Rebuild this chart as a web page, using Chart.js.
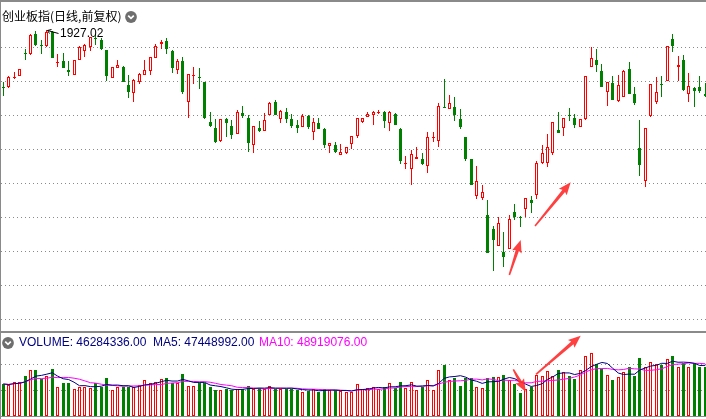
<!DOCTYPE html>
<html>
<head>
<meta charset="utf-8">
<script src="https://cdn.jsdelivr.net/npm/chart.js@4.4.1/dist/chart.umd.min.js"></script>
<style>
html,body{margin:0;padding:0;background:#fff;}
#wrap{position:relative;width:706px;height:419px;overflow:hidden;background:#fff;}
#wrap canvas{position:absolute;left:0;}
.t{position:absolute;white-space:pre;font-family:"Liberation Sans",Arial,sans-serif;font-size:12px;line-height:14px;}
.line{position:absolute;background:#8a8a8a;}
</style>
</head>
<body>
<div id="wrap">
  <canvas id="main" width="708" height="331" style="top:0"></canvas>
  <canvas id="vol" width="708" height="88" style="top:331px"></canvas>

  <div class="line" style="left:0;top:0;width:706px;height:2px;"></div>
  <div class="line" style="left:0;top:0;width:1px;height:419px;"></div>
  <div class="line" style="left:0;top:331px;width:706px;height:2px;"></div>
  <div class="line" style="left:0;top:416px;width:706px;height:1px;"></div>

  <div style="position:absolute;left:2px;top:9px;font-family:'Noto Sans CJK SC',sans-serif;font-size:12px;line-height:14px;color:#000;white-space:pre;">创业板指(日线,前复权)</div>
  <svg style="position:absolute;left:125px;top:11px" width="12" height="12"><circle cx="6" cy="6" r="5.9" fill="#6e6e6e"/><polyline points="3.2,4.6 6,7.4 8.8,4.6" fill="none" stroke="#fff" stroke-width="1.7"/></svg>

  <div id="maxLabel" class="t" style="color:#000;left:61px;top:26px;">1927.02</div>

  <svg style="position:absolute;left:2px;top:337px" width="12" height="12"><circle cx="6" cy="6" r="5.9" fill="#6e6e6e"/><polyline points="3.2,4.6 6,7.4 8.8,4.6" fill="none" stroke="#fff" stroke-width="1.7"/></svg>
  <div class="t" style="left:19px;top:335px;color:#000080;">VOLUME: 46284336.00</div>
  <div class="t" style="left:153px;top:335px;color:#000080;">MA5: 47448992.00</div>
  <div class="t" style="left:259px;top:335px;color:#ff00ff;">MA10: 48919076.00</div>
</div>

<script>
// ---------------- data ----------------
const OPEN = [
 1841.5,1841.0,1854.3,1858.5,1893,1890.6,1921,1904,1902.3,1924,
 1878,1880,1867,1859,1882,1896,1901,1915,1912,1896.3,
 1855.5,1869.5,1871.5,1844.5,1831.8,1849.5,1859,1865,1885,1906.5,
 1910.5,1896,1866.5,1880.5,1819,1857.5,1855.5,1849,1789,1780,
 1760,1793,1783,1770.5,1802.5,1795,1754,1780,1775,1799,
 1819,1793.5,1804,1793.5,1784.5,1781,1798,1774.5,1788,1778,
 1753.5,1754.5,1740,1743,1756,1768.5,1789.5,1796,1799.5,1803,
 1803.5,1787,1801,1778,1726.5,1719,1733,1733.5,1723.5,1765.5,
 1761,1811.5,1808,1811,1793,1766,1733.5,1678.5,1674.5,1649.5,
 1628,1603.5,1594,1599,1653.5,1646.5,1658,1672,1679,1727,
 1727,1742,1777,1779.5,1798.5,1794.5,1782,1793,1872,1882,
 1865.5,1833.5,1847,1820.5,1827,1868,1830.5,1749.5,1701,1798,
 1819.5,1845,1851,1913,1871,1882,1830.5,1840.5,1841,1831
];
const HIGH = [
 1849,1858,1863.6,1868.5,1898.5,1920.3,1925.5,1912,1927.02,1924.8,
 1890.3,1892.5,1879.8,1882,1902.3,1905.3,1916.5,1921,1914.3,1897,
 1871.5,1882,1872.3,1859.5,1852.8,1861.8,1882.5,1886.5,1905.5,1912.5,
 1915.5,1897,1884,1886.5,1861,1871.5,1870,1849.5,1804,1793,
 1793.5,1795,1791.5,1806.5,1813,1799,1783,1790.5,1802.5,1818.3,
 1822,1806.3,1810.5,1801,1792,1801,1799.5,1794.5,1794.5,1780,
 1757.5,1759.5,1756,1751.5,1768.5,1795,1795,1804.5,1804.8,1807,
 1805,1805,1803,1780,1738,1747,1751,1743,1774.5,1774,
 1817,1853.5,1829.5,1826,1808,1766.5,1734,1723,1694,1672,
 1633.5,1646.5,1624.5,1649.5,1666,1648.5,1675,1678,1731,1754.5,
 1771,1789,1804.5,1795,1809.5,1800.5,1793.5,1858,1902,1898.5,
 1876,1849,1858,1859.5,1867,1878.5,1841,1792,1780,1846,
 1856,1858,1903.5,1921,1888,1889.5,1863,1842,1858.5,1848
];
const LOW = [
 1828,1840,1853.5,1858,1882.5,1889.5,1903,1891,1900.8,1885,
 1870.8,1870,1857.3,1858.8,1881.3,1886.5,1895.5,1905,1897,1849.8,
 1855,1869.3,1849,1825.5,1819.5,1845.3,1858.8,1860,1884.5,1899,
 1891.5,1863,1861.5,1831.5,1795.5,1846.5,1839,1794,1782,1758,
 1759.5,1766.5,1764,1770.3,1795.5,1744,1743,1774,1774.8,1798.8,
 1798.8,1788,1788,1780.5,1773,1780.8,1778,1762,1778.5,1749.5,
 1742,1742,1740,1740.5,1748,1765.5,1788,1795.8,1784.5,1800.5,
 1780.5,1776,1784,1725.5,1719,1694.5,1732.8,1724.5,1713,1759.5,
 1752,1809.5,1807.8,1791,1779,1731,1693.8,1673.5,1672,1592.5,
 1566,1603,1572,1598.5,1642,1631,1647,1653,1673,1726,
 1722,1739.5,1772,1768,1791,1780.5,1781.5,1792,1871.5,1864.5,
 1841.5,1813.5,1821.5,1819,1826.5,1830.5,1814.5,1708.5,1692,1797,
 1816,1827,1850.5,1894.5,1850.5,1835.5,1819.5,1812,1832,1827
];
const CLOSE = [
 1840,1856.5,1856.5,1868,1891,1919,1904.5,1903,1924,1885.5,
 1879,1870.5,1864.5,1881.5,1901.5,1904.5,1916,1913,1897.8,1857.3,
 1871,1874,1849.5,1834.5,1852,1861,1866.5,1886,1903,1909,
 1899,1870.5,1880,1834,1860.5,1858.5,1854.5,1795.5,1782.5,1759,
 1793,1787.5,1770,1804,1798.5,1758,1782.5,1775.5,1791.5,1817.5,
 1799,1805,1794,1783.5,1780.5,1798,1782,1788.5,1779,1754.5,
 1757,1744.5,1744,1751,1768,1794.5,1794.5,1801,1804.5,1804,
 1790.5,1803.5,1784.5,1731,1727.5,1740.5,1736,1726,1766,1766,
 1813,1810.5,1817,1799.5,1782,1733.5,1694.5,1700.5,1684.5,1593,
 1612,1637,1587,1643,1646,1645.5,1674.5,1667,1727,1742,
 1752,1788.5,1772,1794.5,1797.5,1785,1793,1857.5,1884.5,1875,
 1842,1848.5,1822,1844,1865.5,1831,1818,1724.5,1779.5,1845.5,
 1834.5,1844,1903,1903,1874.5,1837,1843,1836,1836,1828
];
// daily volume, millions of shares
const VOLUME_M = [
 30.0,29.1,31.9,31.6,37.5,43.1,43.1,35.0,37.5,44.1,
 26.9,31.2,31.2,25.0,27.5,27.5,26.5,30.7,27.5,35.6,
 24.4,26.9,27.5,27.5,27.5,29.1,33.8,30.7,32.2,34.7,
 35.6,30.7,30.7,39.7,28.1,28.1,30.7,30.9,27.5,24.4,
 24.4,25.0,24.4,25.6,25.6,28.1,25.6,26.3,25.0,28.1,
 25.6,25.6,25.6,25.6,24.4,22.5,23.7,25.6,22.2,25.6,
 24.1,24.1,23.7,22.5,22.5,30.0,25.3,25.8,27.5,25.3,
 27.5,30.7,26.0,31.6,26.3,31.6,24.4,26.9,33.8,24.4,
 43.1,48.1,33.8,35.9,28.1,35.9,35.3,27.5,26.0,35.3,
 36.8,36.3,38.4,33.8,29.7,21.8,25.6,27.5,38.4,37.8,
 42.2,37.8,43.1,41.0,37.8,34.7,43.1,56.5,58.8,48.8,
 43.8,38.4,33.8,36.8,41.5,45.9,37.8,54.1,46.2,50.3,
 49.0,47.5,53.5,56.5,45.5,49.5,46.0,49.5,46.0,46.284336
];
const CATEGORIES = OPEN.map((_, i) => 'D' + (i + 1));
const PRICE_GRID = [1901.5,1850.5,1799.5,1748.5,1697.5,1646.5,1595.5,1544.5,1493.5];
const VOLUME_GRID = [24, 48];

// hand-drawn red arrows, in data coordinates [category index, value]
const ARROWS_MAIN = [
  {from:[92.99,1559.5], to:[95.08,1612]},
  {from:[97.71,1633], to:[104.27,1698.5]}
];
const ARROWS_VOL = [
  {from:[97.89,39.1], to:[106.1,75.3]},
  {from:[93.72,43.8], to:[96.0,22.8]}
];

// ---------------- styles ----------------
const RED = '#ff0000', GREEN = '#008000', NAVY = '#000080', MAGENTA = '#ff00ff';
const isUp = i => CLOSE[i] >= OPEN[i];
const upColor = (i, up, down) => isUp(i) ? up : down;

function ma(arr, n) {
  return arr.map((_, i) => {
    const s = Math.max(0, i - n + 1);
    const w = arr.slice(s, i + 1);
    return w.reduce((a, b) => a + b, 0) / w.length;
  });
}

function drawArrow(ctx, x1, y1, x2, y2) {
  const dx = x2 - x1, dy = y2 - y1, len = Math.hypot(dx, dy);
  const ux = dx / len, uy = dy / len, nx = -uy, ny = ux;
  const headLen = 11, headW = 5, tailW = 0.8, neckW = 1.7;
  const bx = x2 - ux * headLen, by = y2 - uy * headLen;
  ctx.save();
  ctx.fillStyle = 'rgba(255,48,48,0.92)';
  ctx.beginPath();
  ctx.moveTo(x1 + nx * tailW, y1 + ny * tailW);
  ctx.lineTo(bx + nx * neckW, by + ny * neckW);
  ctx.lineTo(bx + nx * headW - ux * 1.5, by + ny * headW - uy * 1.5);
  ctx.lineTo(x2, y2);
  ctx.lineTo(bx - nx * headW - ux * 1.5, by - ny * headW - uy * 1.5);
  ctx.lineTo(bx - nx * neckW, by - ny * neckW);
  ctx.lineTo(x1 - nx * tailW, y1 - ny * tailW);
  ctx.closePath();
  ctx.fill();
  ctx.restore();
}

const arrowPlugin = (list) => ({
  id: 'arrows',
  afterDraw(chart) {
    const {ctx, scales: {x, y}} = chart;
    list.forEach(a => {
      drawArrow(ctx, x.getPixelForValue(a.from[0]), y.getPixelForValue(a.from[1]),
                     x.getPixelForValue(a.to[0]), y.getPixelForValue(a.to[1]));
    });
  }
});

// snap bar elements computed by the scales onto whole device pixels (crisp 1px borders)
const snapPlugin = {
  id: 'snap',
  beforeDatasetsDraw(chart) {
    chart.data.datasets.forEach((ds, di) => {
      const meta = chart.getDatasetMeta(di);
      if (meta.type !== 'bar') return;
      meta.data.forEach(el => {
        el.x = Math.floor(el.x) + 0.5;
        const a = Math.round(el.y), b = Math.round(el.base);
        el.y = a;
        el.base = (a === b) ? a + 1 : b;
      });
    });
  }
};

const maxMarker = {
  id: 'maxMarker',
  afterDraw(chart) {
    const {ctx, scales: {x, y}} = chart;
    let idx = 0;
    HIGH.forEach((h, i) => { if (h > HIGH[idx]) idx = i; });
    const px = Math.floor(x.getPixelForValue(idx)) + 0.5, py = y.getPixelForValue(HIGH[idx]);
    ctx.save();
    ctx.strokeStyle = '#000';
    ctx.lineWidth = 1;
    ctx.beginPath();
    ctx.moveTo(px + 1, py + 0.5);
    ctx.lineTo(px + 12, py + 3.5);
    ctx.moveTo(px + 1, py + 0.5);
    ctx.lineTo(px + 5, py - 0.5);
    ctx.moveTo(px + 1, py + 0.5);
    ctx.lineTo(px + 3, py + 3.5);
    ctx.stroke();
    ctx.restore();
    const lab = document.getElementById('maxLabel');
    lab.style.left = (px + 13.5) + 'px';
    lab.style.top = (py - 4) + 'px';
  }
};

const gridY = (min, max, levels) => ({
  display: true,
  min, max,
  afterBuildTicks: s => { s.ticks = levels.map(v => ({value: v})); },
  afterFit: s => { s.width = 0; },
  ticks: {display: false},
  grid: {color: '#8a8a8a', lineWidth: 1, drawTicks: false},
  border: {display: false, dash: [1, 3]}
});

// ---------------- main candlestick chart ----------------
new Chart(document.getElementById('main'), {
  type: 'bar',
  data: {
    labels: CATEGORIES,
    datasets: [
      {
        label: 'body',
        data: OPEN.map((o, i) => [o, CLOSE[i]]),
        backgroundColor: OPEN.map((_, i) => upColor(i, '#ffffff', GREEN)),
        borderColor: OPEN.map((_, i) => upColor(i, RED, GREEN)),
        borderWidth: 1,
        borderSkipped: false,
        barThickness: 3,
        minBarLength: 1,
        inflateAmount: 0,
        grouped: false,
        order: 0
      },
      {
        label: 'wick',
        data: LOW.map((l, i) => [l, HIGH[i]]),
        backgroundColor: OPEN.map((_, i) => upColor(i, RED, GREEN)),
        borderWidth: 0,
        barThickness: 1,
        inflateAmount: 0,
        grouped: false,
        order: 1
      }
    ]
  },
  options: {
    responsive: false,
    devicePixelRatio: 1,
    animation: false,
    layout: {padding: {left: 0.6, right: 0, top: 13, bottom: 1}},
    plugins: {legend: {display: false}, tooltip: {enabled: false}},
    scales: {
      x: {display: false},
      y: gridY(1477, 1952.5, PRICE_GRID)
    }
  },
  plugins: [snapPlugin, arrowPlugin(ARROWS_MAIN), maxMarker]
});

// ---------------- volume chart ----------------
new Chart(document.getElementById('vol'), {
  type: 'bar',
  data: {
    labels: CATEGORIES,
    datasets: [
      {
        type: 'line', label: 'MA5', data: ma(VOLUME_M, 5),
        borderColor: NAVY, borderWidth: 1, pointRadius: 0, tension: 0, order: 0
      },
      {
        type: 'line', label: 'MA10', data: ma(VOLUME_M, 10),
        borderColor: MAGENTA, borderWidth: 1, pointRadius: 0, tension: 0, order: 0
      },
      {
        label: 'VOLUME', data: VOLUME_M,
        backgroundColor: OPEN.map((_, i) => upColor(i, '#ffffff', GREEN)),
        borderColor: OPEN.map((_, i) => upColor(i, RED, GREEN)),
        borderWidth: 1, borderSkipped: false, barThickness: 3, inflateAmount: 0, order: 1
      }
    ]
  },
  options: {
    responsive: false,
    devicePixelRatio: 1,
    animation: false,
    layout: {padding: {left: 0.6, right: 0, top: 15, bottom: 3}},
    plugins: {legend: {display: false}, tooltip: {enabled: false}},
    scales: {
      x: {display: false},
      y: gridY(0, 65.625, VOLUME_GRID)
    }
  },
  plugins: [snapPlugin, arrowPlugin(ARROWS_VOL)]
});
</script>
</body>
</html>
